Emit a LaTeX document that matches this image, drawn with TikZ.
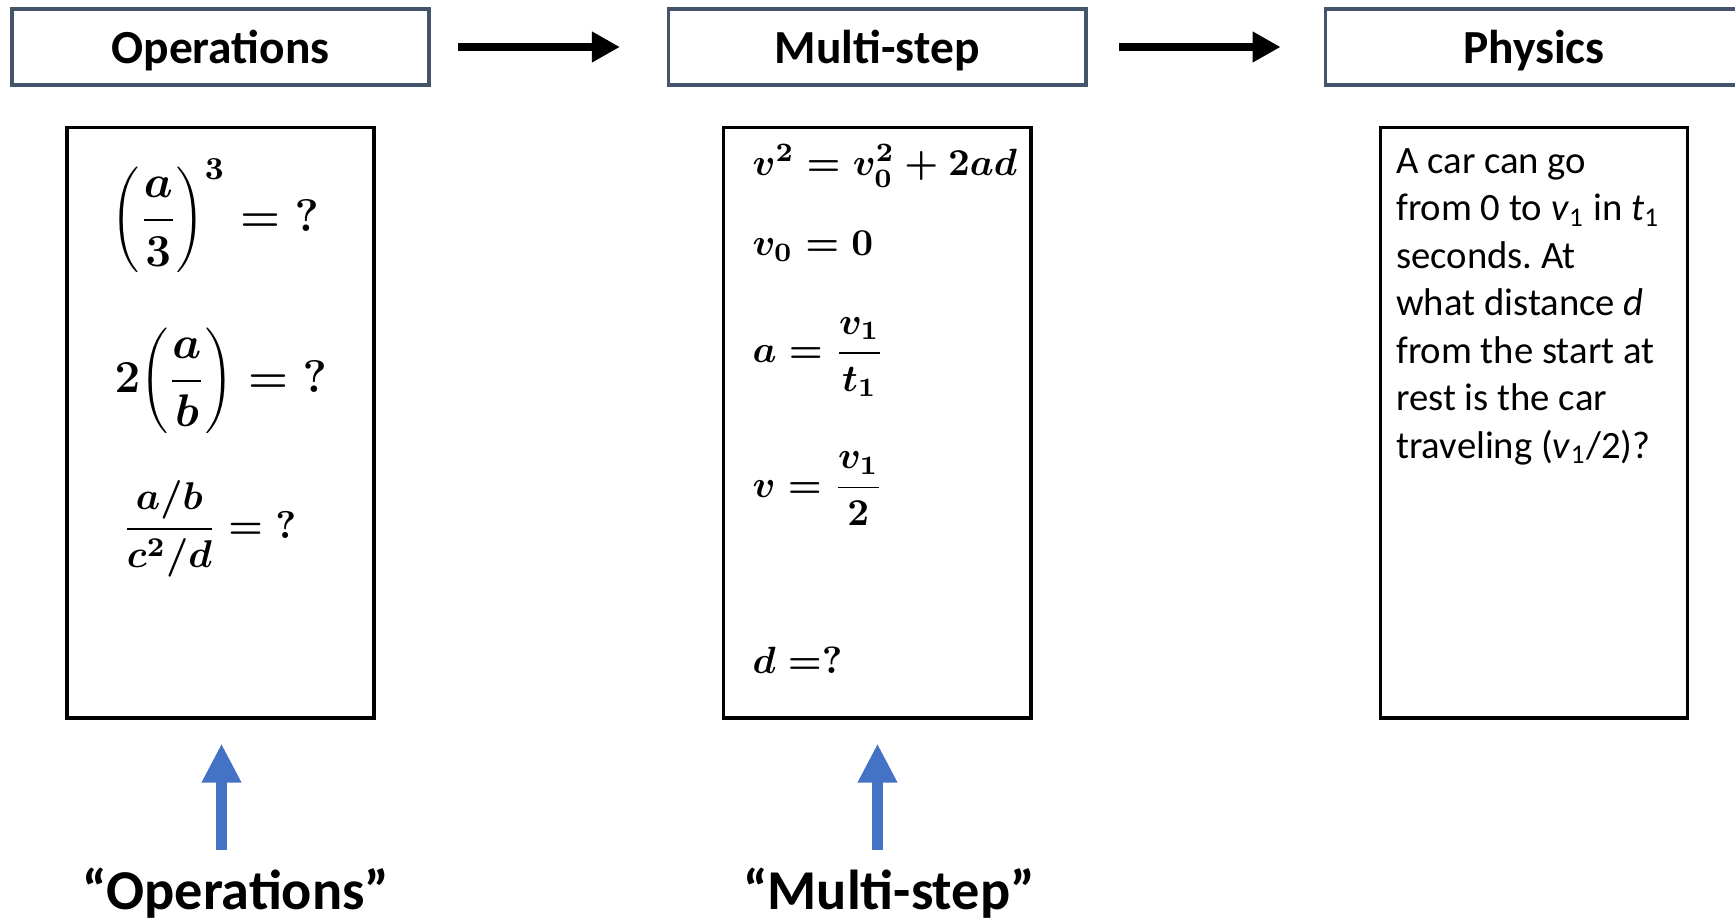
\RequirePackage{fix-cm}
\documentclass[tikz,border=0pt]{standalone}
\usepackage{fontspec}
\setmainfont{Carlito}
\usetikzlibrary{arrows.meta,positioning}
\definecolor{stageEdge}{HTML}{44546A}
\definecolor{cueBlue}{HTML}{4472C4}
\newcommand{\eqfont}[1]{\fontsize{#1}{1.2\dimexpr#1pt\relax}\selectfont\boldmath}

\begin{document}
\frenchspacing
\begin{tikzpicture}[x=0.01cm, y=-0.01cm, node distance=2.36cm,
    stagebox/.style={draw=stageEdge, line width=0.95pt, minimum width=4.17cm, minimum height=0.76cm,
      inner sep=0pt, text depth=0pt, font=\fontsize{13.5}{16}\selectfont\bfseries},
    probbox/.style={draw=black, line width=1pt, minimum width=3.07cm, minimum height=5.9cm, inner sep=0pt},
    flowarrow/.style={-{Triangle[length=0.28cm, width=0.29cm]}, line width=0.08cm},
    cuearrow/.style={-{Triangle[length=0.39cm, width=0.37cm]}, line width=0.11cm, cueBlue,
      shorten >=0.24cm},
    eqn/.style={anchor=west, inner sep=0pt},
    cue/.style={anchor=base, font=\fontsize{16}{19}\selectfont\bfseries}]
  \useasboundingbox (0,0) rectangle (1735,919);

  % stage headers
  \node[stagebox] (ops) at (220.5,47) {Operations};
  \node[stagebox, right=of ops] (multi) {Multi-step};
  \node[stagebox, right=of multi] (phys) {Physics};
  \foreach \a/\b/\s/\e in {ops/multi/0.27/0.47,multi/phys/0.31/0.43}
    \draw[flowarrow, shorten <=\s cm, shorten >=\e cm] (\a) -- (\b);

  % problem boxes
  \node[probbox, below=0.39cm of ops] (opsbox) {};
  \node[probbox, below=0.39cm of multi] (multibox) {};
  \node[probbox, below=0.39cm of phys] (physbox) {};

  \node[eqn, font=\eqfont{13}] (powq) at (111,216) {$\displaystyle \Biggl(\frac{a}{3}\Biggr)^{3} = {?}$};
  \node[eqn, font=\eqfont{13}] (prodq) at (114,381) {$\displaystyle 2\Biggl(\frac{a}{b}\Biggr) = {?}$};
  \node[eqn, font=\eqfont{11}] (divq) at (122,529) {$\displaystyle \frac{a/b}{c^2/d} = {?}$};

  \node[eqn, font=\eqfont{10.8}] (kineq) at (752,166) {$v^2 = v_0^2 + 2ad$};
  \node[eqn, font=\eqfont{10.8}] (startv) at (752,246) {$v_0 = 0$};
  \node[eqn, font=\eqfont{10.8}] (accel) at (752,357) {$\displaystyle a = \frac{v_1}{t_1}$};
  \node[eqn, font=\eqfont{10.8}] (halfv) at (752,489) {$\displaystyle v = \frac{v_1}{2}$};
  \node[eqn, font=\eqfont{10.8}] (dist) at (752,660) {$d =?$};

  \node[anchor=north west, inner sep=0pt, align=left, font=\fontsize{11}{13.5}\selectfont]
    (carprob) at ([xshift=0.17cm, yshift=-0.22cm]physbox.north west)
    {A car can go\\ from 0 to \textit{v}\textsubscript{1} in \textit{t}\textsubscript{1}\\ seconds. At\\
     what distance \textit{d}\\ from the start at\\ rest is the car\\ traveling (\textit{v}\textsubscript{1}/2)?};

  % cues below
  \node[cue] (opscue) at (236,910) {“Operations”};
  \node[cue] (multicue) at (889,910) {“Multi-step”};
  \coordinate (opsfoot) at (221.5,850);
  \coordinate (multifoot) at (877.5,850);
  \draw[cuearrow] (opsfoot) -- (opsfoot |- opsbox.south);
  \draw[cuearrow] (multifoot) -- (multifoot |- multibox.south);
\end{tikzpicture}
\end{document}
